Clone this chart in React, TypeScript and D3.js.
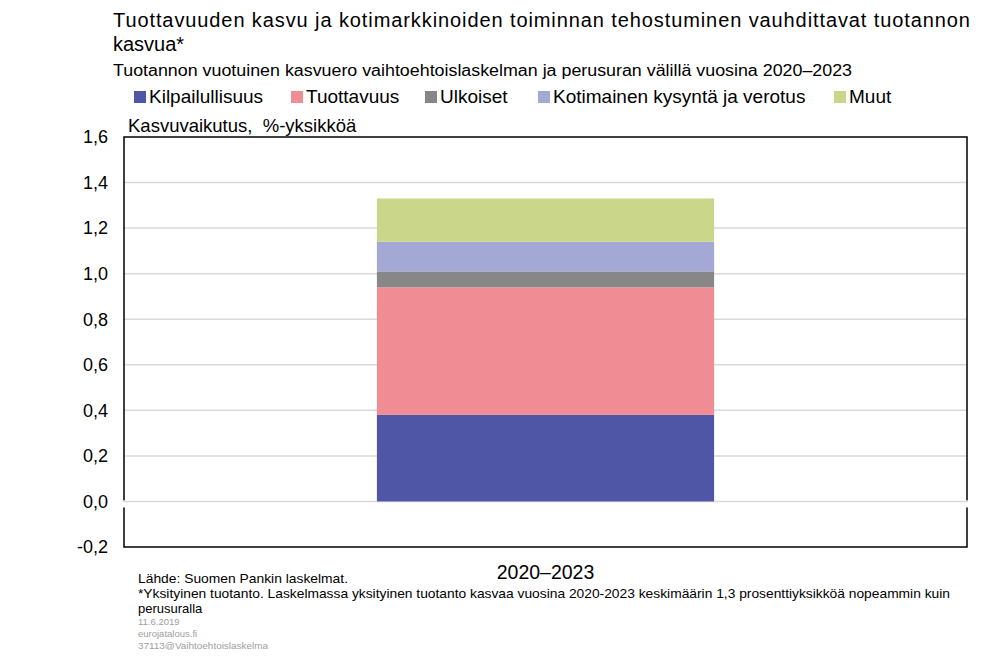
import * as d3 from 'd3';
import { useMemo } from 'react';

// Data
const categories = ['2020–2023'];
const seriesNames = ['Kilpailullisuus', 'Tuottavuus', 'Ulkoiset', 'Kotimainen kysyntä ja verotus', 'Muut'];
const seriesColors = ['#4F56A5', '#F08C93', '#878787', '#A4A8D4', '#CAD78A'];
const seriesValues = [
  [0.38], // Kilpailullisuus
  [0.56], // Tuottavuus
  [0.07], // Ulkoiset
  [0.13], // Kotimainen kysyntä ja verotus
  [0.19], // Muut
];
const yTicks = [-0.2, 0, 0.2, 0.4, 0.6, 0.8, 1.0, 1.2, 1.4, 1.6];

const W = 1006;
const H = 657;
const PLOT = { left: 124, right: 967, top: 137, bottom: 547 };
const FONT = '"Liberation Sans", Arial, sans-serif';
const NARROW = '"Liberation Sans Narrow", "Liberation Sans", Arial, sans-serif';

const legendX = [134, 291, 425, 538, 834];

export default function App() {
  const yScale = useMemo(
    () => d3.scaleLinear().domain([-0.2, 1.6]).range([PLOT.bottom, PLOT.top]),
    []
  );
  const xScale = useMemo(
    () =>
      d3.scaleBand<string>()
        .domain(categories)
        .range([PLOT.left, PLOT.right])
        .paddingInner(0.6)
        .paddingOuter(0.3),
    []
  );

  const table = categories.map((c, i) => {
    const row: Record<string, any> = { cat: c };
    seriesNames.forEach((s, j) => (row[s] = seriesValues[j][i]));
    return row;
  });
  const stacked = d3.stack<any>().keys(seriesNames)(table);

  const fmt = (v: number) => v.toFixed(1).replace('.', ',');
  const y0 = yScale(0);

  return (
    <svg
      width={W}
      height={H}
      style={{ position: 'absolute', left: 0, top: 0, background: '#fff' }}
      fontFamily={FONT}
    >
      <rect width={W} height={H} fill="#fff" />

      {/* Title */}
      <text x={113} y={27} fontSize={20} textLength={857} lengthAdjust="spacing" fill="#000">
        Tuottavuuden kasvu ja kotimarkkinoiden toiminnan tehostuminen vauhdittavat tuotannon
      </text>
      <text x={113} y={51} fontSize={20} fill="#000">kasvua*</text>
      <text x={113} y={76} fontSize={16} textLength={739} lengthAdjust="spacingAndGlyphs" fill="#000">
        Tuotannon vuotuinen kasvuero vaihtoehtoislaskelman ja perusuran välillä vuosina 2020–2023
      </text>

      {/* Legend */}
      {seriesNames.map((s, i) => (
        <g key={s}>
          <rect x={legendX[i]} y={91} width={12} height={12} fill={seriesColors[i]} />
          <text x={legendX[i] + 15} y={103} fontSize={19} fill="#000">{s}</text>
        </g>
      ))}

      {/* Axis title */}
      <text x={128} y={132} fontSize={18.5} fill="#000" style={{ whiteSpace: 'pre' }}>
        {'Kasvuvaikutus,  %-yksikköä'}
      </text>

      {/* Gridlines */}
      {yTicks.filter(t => t > -0.2 && t < 1.6 && t !== 0).map(t => (
        <line key={t} x1={PLOT.left} x2={PLOT.right} y1={yScale(t)} y2={yScale(t)} stroke="#D9D9D9" strokeWidth={1.5} />
      ))}

      {/* Plot border */}
      <rect
        x={PLOT.left}
        y={PLOT.top}
        width={PLOT.right - PLOT.left}
        height={PLOT.bottom - PLOT.top}
        fill="none"
        stroke="#000"
        strokeWidth={1.5}
      />
      {/* Zero axis band */}
      <rect x={PLOT.left - 2} y={y0 - 1} width={PLOT.right - PLOT.left + 4} height={7} fill="#fff" />
      <line x1={PLOT.left - 1} x2={PLOT.right + 1} y1={y0} y2={y0} stroke="#D9D9D9" strokeWidth={1.5} />

      {/* Bars */}
      {stacked.map((layer, i) =>
        layer.map((d, k) => (
          <rect
            key={`${i}-${k}`}
            x={xScale(categories[k])}
            width={xScale.bandwidth()}
            y={yScale(d[1])}
            height={yScale(d[0]) - yScale(d[1])}
            fill={seriesColors[i]}
          />
        ))
      )}

      {/* Y tick labels */}
      {yTicks.map(t => (
        <text key={t} x={108} y={yScale(t)} dy="0.35em" textAnchor="end" fontSize={18} fill="#000">
          {fmt(t)}
        </text>
      ))}

      {/* X label */}
      {categories.map(c => (
        <text key={c} x={(xScale(c) ?? 0) + xScale.bandwidth() / 2} y={579} textAnchor="middle" fontSize={19.5} fill="#000">
          {c}
        </text>
      ))}

      {/* Footer */}
      <g fontFamily={NARROW} fill="#000">
        <text x={138} y={583} fontSize={13} textLength={210} lengthAdjust="spacingAndGlyphs">
          Lähde: Suomen Pankin laskelmat.
        </text>
        <text x={138} y={598} fontSize={13} textLength={812} lengthAdjust="spacingAndGlyphs">
          *Yksityinen tuotanto. Laskelmassa yksityinen tuotanto kasvaa vuosina 2020-2023 keskimäärin 1,3 prosenttiyksikköä nopeammin kuin
        </text>
        <text x={138} y={613} fontSize={13}>perusuralla</text>
      </g>
      <g fontFamily={NARROW} fill="#A0A0A0" fontSize={9.5}>
        <text x={138} y={625}>11.6.2019</text>
        <text x={138} y={637}>eurojatalous.fi</text>
        <text x={138} y={649} textLength={130} lengthAdjust="spacingAndGlyphs">37113@Vaihtoehtoislaskelma</text>
      </g>
    </svg>
  );
}
